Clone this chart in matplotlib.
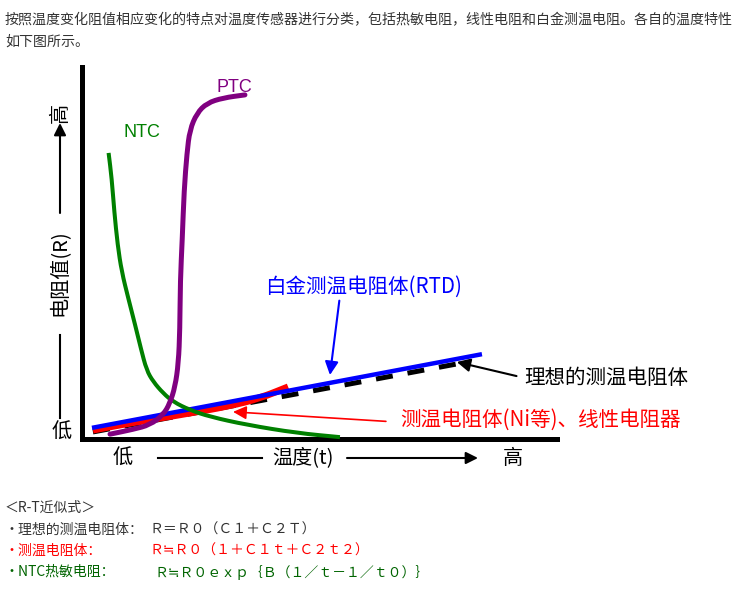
import matplotlib

matplotlib.use("Agg")
import matplotlib.pyplot as plt
from matplotlib.patches import PathPatch
from matplotlib.path import Path

plt.rcParams["font.family"] = ["Noto Sans CJK SC", "DejaVu Sans"]

W, H = 738, 594

# curves: temperature (0 low .. 100 high) vs resistance (0 low .. 100 high)
ntc_t = [5.6, 6.25, 6.8, 7.5, 8.36, 9.75, 11.2, 12.4, 13.6, 15.0, 17.1, 19.2, 22.7, 26.9, 34.7, 45.3, 54.3]
ntc_r = [76.9, 70.1, 61.1, 52.2, 45.0, 37.8, 30.6, 24.3, 18.5, 15.4, 12.3, 10.0, 7.8, 6.0, 3.8, 1.6, 0.5]

ptc_t = [5.9, 10.8, 14.3, 17.1, 18.5, 19.6, 20.3, 20.6, 20.7, 21.1, 21.5, 22.1, 22.7, 24.2, 26.3, 29.7, 34.3]
ptc_r = [1.3, 2.6, 3.8, 6.5, 9.6, 14.1, 20.4, 29.3, 42.7, 53.5, 66.9, 76.9, 83.1, 87.6, 90.3, 91.7, 92.5]

rtd_t = [2.1, 84.2]
rtd_r = [3.0, 22.8]

ideal_t = [2.3, 81.1]
ideal_r = [1.9, 20.7]

ni_t = [2.3, 10.1, 20.6, 31.2, 37.5, 43.4]
ni_r = [2.4, 4.3, 6.5, 8.9, 11.0, 14.0]

header_lines = [
    "按照温度变化阻值相应变化的特点对温度传感器进行分类，包括热敏电阻，线性电阻和白金测温电阻。各自的温度特性",
    "如下图所示。",
]
formula_rows = [
    ("・理想的测温电阻体：", "Ｒ＝Ｒ０（Ｃ１＋Ｃ２Ｔ）", "#333333"),
    ("・测温电阻体：", "Ｒ≒Ｒ０（１＋Ｃ１ｔ＋Ｃ２ｔ２）", "#ff0000"),
    ("・NTC热敏电阻：", "Ｒ≒Ｒ０ｅｘｐ｛Ｂ（１／ｔ－１／ｔ０）｝", "#006400"),
]

GREEN, PURPLE, BLUE, RED = "#008000", "#800080", "#0000ff", "#ff0000"


def smooth_path(xs, ys):
    """Quadratic bezier through the midpoints, read points act as control points."""
    pts = list(zip(xs, ys))
    verts, codes = [pts[0]], [Path.MOVETO]
    mid = lambda a, b: ((a[0] + b[0]) / 2, (a[1] + b[1]) / 2)
    verts.append(mid(pts[0], pts[1]))
    codes.append(Path.LINETO)
    for i in range(1, len(pts) - 1):
        verts += [pts[i], mid(pts[i], pts[i + 1])]
        codes += [Path.CURVE3, Path.CURVE3]
    verts.append(pts[-1])
    codes.append(Path.LINETO)
    return Path(verts, codes)


fig = plt.figure(figsize=(W / 100, H / 100), dpi=100)

# page layer in pixel units for the surrounding text
page = fig.add_axes([0, 0, 1, 1])
page.set_xlim(0, W)
page.set_ylim(H, 0)
page.axis("off")

for i, line in enumerate(header_lines):
    page.text(5, 20 + i * 22, line, fontsize=10.1, color="#333333", va="center")

page.text(5, 508, "＜R-T近似式＞", fontsize=10, color="#333333", va="center")
for i, (name, eq, col) in enumerate(formula_rows):
    y = 530 + i * 21
    page.text(5, y, name, fontsize=10, color=col, va="center")
    page.text(149 if i < 2 else 154, y, eq, fontsize=10, color=col, va="center")

# axis captions
arrow_kw = dict(arrowstyle="-|>", color="black", lw=1.5, mutation_scale=18, shrinkA=0, shrinkB=0)
page.text(60, 113, "高", fontsize=14.5, rotation=90, ha="center", va="center")
page.annotate("", xy=(60, 123), xytext=(60, 213), arrowprops=arrow_kw)
page.text(60, 273, "电阻值(R)", fontsize=14.5, rotation=90, ha="center", va="center")
page.plot([60, 60], [335, 418], color="black", lw=1.5)
page.text(62, 432, "低", fontsize=14.5, ha="center", va="center")

page.text(123, 458, "低", fontsize=14.5, ha="center", va="center")
page.plot([158, 262], [458, 458], color="black", lw=1.5)
page.text(303, 458, "温度(t)", fontsize=14.5, ha="center", va="center")
page.annotate("", xy=(478, 458), xytext=(347, 458), arrowprops=arrow_kw)
page.text(513, 458, "高", fontsize=14.5, ha="center", va="center")

# chart
ax = fig.add_axes([82 / W, (H - 439) / H, 475 / W, 372 / H])
ax.set_facecolor("none")
ax.set_xlim(0, 100)
ax.set_ylim(0, 100)
ax.set_xticks([])
ax.set_yticks([])
for side in ("top", "right"):
    ax.spines[side].set_visible(False)
for side in ("left", "bottom"):
    ax.spines[side].set_linewidth(3.6)
    ax.spines[side].set_capstyle("projecting")

ax.plot(ideal_t, ideal_r, color="black", lw=3.6, dashes=(3.4, 3.0), clip_on=False, zorder=2)
ax.add_patch(PathPatch(smooth_path(ni_t, ni_r), fill=False, ec=RED, lw=5,
                       capstyle="butt", clip_on=False, zorder=3))
ax.plot(rtd_t, rtd_r, color=BLUE, lw=3.2, solid_capstyle="butt", clip_on=False, zorder=4)
ax.add_patch(PathPatch(smooth_path(ntc_t, ntc_r), fill=False, ec=GREEN, lw=2.9,
                       capstyle="butt", joinstyle="round", clip_on=False, zorder=5))
ax.add_patch(PathPatch(smooth_path(ptc_t, ptc_r), fill=False, ec=PURPLE, lw=3.6,
                       capstyle="round", joinstyle="round", clip_on=False, zorder=6))

ax.text(12.6, 82.5, "NTC", family=["Liberation Sans"], fontsize=13, color=GREEN, ha="center", va="center")
ax.text(32.0, 94.6, "PTC", family=["Liberation Sans"], fontsize=13, color=PURPLE, ha="center", va="center")

label_kw = dict(annotation_clip=False, fontsize=14.8, va="center", ha="left")
ax.annotate("白金测温电阻体(RTD)", xy=(52.2, 17.2), xytext=(38.5, 40.9), color=BLUE,
            arrowprops=dict(arrowstyle="-|>", color=BLUE, lw=1.5, mutation_scale=20,
                            shrinkA=0, shrinkB=0, relpos=(0.38, 0.0)), **label_kw)
ax.annotate("理想的测温电阻体", xy=(78.9, 20.7), xytext=(93.2, 16.4), color="black",
            arrowprops=dict(arrowstyle="-|>", color="black", lw=1.5, mutation_scale=20,
                            shrinkA=4, shrinkB=0, relpos=(0.0, 0.5)), **label_kw)
ax.annotate("测温电阻体(Ni等)、线性电阻器", xy=(31.8, 7.3), xytext=(66.9, 5.1), color=RED,
            arrowprops=dict(arrowstyle="-|>", color=RED, lw=1.2, mutation_scale=20,
                            shrinkA=8, shrinkB=0, relpos=(0.0, 0.4)), **label_kw)

fig.savefig("out.png", dpi=100)
